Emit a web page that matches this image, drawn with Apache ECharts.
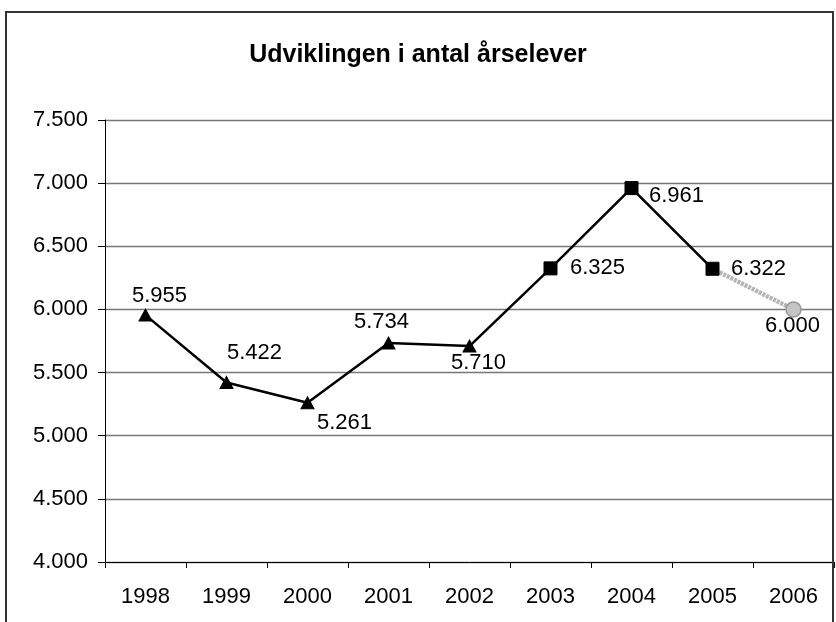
<!DOCTYPE html>
<html>
<head>
<meta charset="utf-8">
<script src="https://cdn.jsdelivr.net/npm/echarts@6/dist/echarts.min.js"></script>
<style>
  html, body { margin:0; padding:0; background:#fff; }
  #chart { width:836px; height:622px; }
</style>
</head>
<body>
<div id="chart"></div>
<script>
// ====== data ======
const years   = ['1998','1999','2000','2001','2002','2003','2004','2005','2006'];
const actual  = [5955, 5422, 5261, 5734, 5710, 6325, 6961, 6322, null];
const markers = ['triangle','triangle','triangle','triangle','triangle','rect','rect','rect', null];
const forecast = [null, null, null, null, null, null, null, 6322, 6000];
const yTicks  = [4000, 4500, 5000, 5500, 6000, 6500, 7000, 7500];

// label placement around each point (px, relative to marker)
const labelOffsets = [[14,-19],[28,-29],[37,20],[-7,-21],[9,17],[47,0],[45,8],[46,0],[-1,17]];

// 5955 -> "5.955"
const fmt = (v) => String(v).replace(/\B(?=(\d{3})+(?!\d))/g, '.');

const font = 'Arial, "Liberation Sans", sans-serif';
const FS = 22;
const chart = echarts.init(document.getElementById('chart'));

const actualData = actual.map((v,i) => v == null ? '-' : ({
  value: v,
  symbol: markers[i],
  symbolSize: markers[i] === 'triangle' ? [13,12] : 13,
  label: { show:true, position:'inside', offset: labelOffsets[i] }
}));

const forecastData = forecast.map((v,i) => v == null ? '-' : ({
  value: v,
  symbol: i === years.length - 1 ? 'circle' : 'none',
  symbolSize: 15,
  label: { show: i === years.length - 1, position:'inside', offset: labelOffsets[i] }
}));

chart.setOption({
  animation: false,
  textStyle: { fontFamily: font },
  title: {
    text: 'Udviklingen i antal årselever',
    left: 'center', top: 38,
    textStyle: { fontFamily: font, fontSize: 25, fontWeight: 'bold', color: '#000' }
  },
  graphic: [{
    type: 'rect', z: 100, silent: true,
    shape: { x: 6, y: 12, width: 827, height: 640 },
    style: { fill: 'none', stroke: '#333', lineWidth: 2 }
  }],
  grid: { left: 105, right: 2, top: 120, bottom: 60 },
  xAxis: {
    type: 'category', data: years, boundaryGap: true,
    axisLine: { lineStyle: { color: '#000', width: 1 } },
    axisTick: { show: true, length: 6, lineStyle: { color: '#000' } },
    axisLabel: { color: '#000', fontSize: FS, margin: 24, fontFamily: font },
    splitLine: { show: false }
  },
  yAxis: {
    type: 'value', min: yTicks[0], max: yTicks[yTicks.length-1], interval: 500,
    axisLine: { show: true, lineStyle: { color: '#000', width: 1 } },
    axisTick: { show: true, length: 7, lineStyle: { color: '#000' } },
    axisLabel: { color: '#000', fontSize: FS, margin: 17, fontFamily: font, formatter: fmt },
    splitLine: { show: true, lineStyle: { color: '#777', width: 1.3 } }
  },
  series: [
    {
      name: 'forecast', type: 'line', z: 2,
      data: forecastData,
      connectNulls: false,
      lineStyle: { color: '#b4b4b4', width: 4.5, type: [3, 1] },
      itemStyle: { color: '#c4c4c4', borderColor: '#999', borderWidth: 1.5 },
      label: { color: '#000', fontSize: FS, fontFamily: font, formatter: (p) => fmt(p.value) }
    },
    {
      name: 'actual', type: 'line', z: 3,
      data: actualData,
      lineStyle: { color: '#000', width: 2.5 },
      itemStyle: { color: '#000', borderColor: '#000' },
      label: { color: '#000', fontSize: FS, fontFamily: font, formatter: (p) => fmt(p.value) }
    }
  ]
});
</script>
</body>
</html>
